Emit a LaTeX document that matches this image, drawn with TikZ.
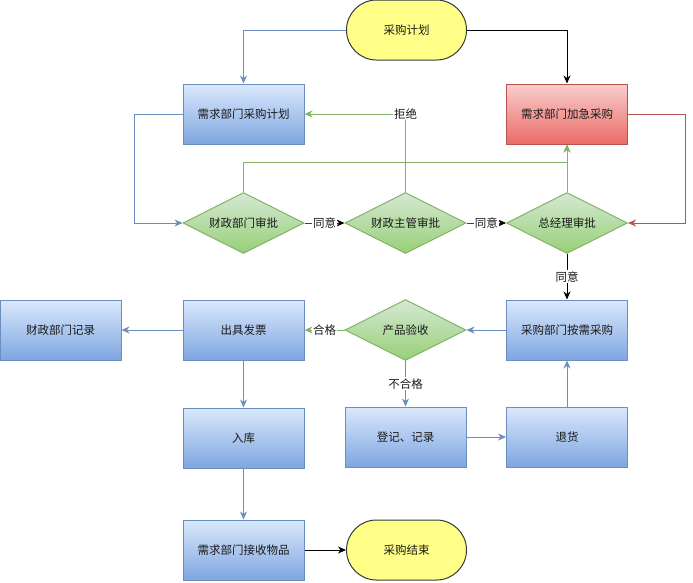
\documentclass[tikz,border=0pt]{standalone}
\usepackage{fontspec}
\setmainfont{Noto Sans CJK SC}
\usetikzlibrary{shapes.geometric,arrows.meta}
\definecolor{bluetop}{HTML}{DAE8FC}
\definecolor{bluebot}{HTML}{7EA6E0}
\definecolor{blueline}{HTML}{6C8EBF}
\definecolor{redtop}{HTML}{F8CECC}
\definecolor{redbot}{HTML}{EA6B66}
\definecolor{redline}{HTML}{B85450}
\definecolor{greentop}{HTML}{D5E8D4}
\definecolor{greenbot}{HTML}{97D077}
\definecolor{greenline}{HTML}{82B366}
\definecolor{yellowfill}{HTML}{FFFF88}
\definecolor{yellowline}{HTML}{36393D}
\tikzset{
  every node/.style={font=\fontsize{11.5pt}{13pt}\selectfont, text=black!90},
  bluebox/.style={rectangle, draw=blueline, line width=1pt, top color=bluetop, bottom color=bluebot, minimum width=121pt, minimum height=60pt, inner sep=0pt},
  redbox/.style={rectangle, draw=redline, line width=1pt, top color=redtop, bottom color=redbot, minimum width=121pt, minimum height=60pt, inner sep=0pt},
  gdiamond/.style={diamond, draw=greenline, line width=1pt, top color=greentop, bottom color=greenbot, minimum width=121pt, minimum height=61pt, inner sep=0pt, aspect=2},
  terminal/.style={rectangle, rounded corners=30pt, draw=yellowline, line width=1pt, fill=yellowfill, minimum width=120pt, minimum height=60pt, inner sep=0pt},
  blueedge/.style={draw=blueline, line width=1pt, -{Stealth[length=8pt,width=7pt,inset=2.5pt]}},
  greenedge/.style={draw=greenline, line width=1pt, -{Stealth[length=8pt,width=7pt,inset=2.5pt]}},
  rededge/.style={draw=redline, line width=1pt, -{Stealth[length=8pt,width=7pt,inset=2.5pt]}},
  blackedge/.style={draw=black, line width=1pt, -{Stealth[length=8pt,width=7pt,inset=2.5pt]}},
  darkedge/.style={draw=black!75, line width=1pt, -{Stealth[length=8pt,width=7pt,inset=2.5pt,black]}},
  lbl/.style={fill=white, inner sep=1pt}
}
\begin{document}
\begin{tikzpicture}[x=1pt,y=-1pt]
\useasboundingbox (0,0) rectangle (693,582);
% nodes
\node[terminal] (start) at (406.5,30) {采购计划};
\node[bluebox] (plan) at (243.5,114) {需求部门采购计划};
\node[redbox] (urgent) at (567,114) {需求部门加急采购};
\node[gdiamond] (d1) at (243.5,223) {财政部门审批};
\node[gdiamond] (d2) at (405.5,223) {财政主管审批};
\node[gdiamond] (d3) at (567,223) {总经理审批};
\node[bluebox] (fin) at (60.5,330) {财政部门记录};
\node[bluebox] (inv) at (243.5,330) {出具发票};
\node[gdiamond] (d4) at (405.5,330) {产品验收};
\node[bluebox] (buy) at (567,330) {采购部门按需采购};
\node[bluebox] (store) at (243.5,438) {入库};
\node[bluebox] (reg) at (405.5,437) {登记、记录};
\node[bluebox] (ret) at (567,437) {退货};
\node[bluebox] (recv) at (243.5,550) {需求部门接收物品};
\node[terminal] (end) at (406.5,550) {采购结束};
% connectors
\draw[blueedge] (start.west) -| (plan.north);
\draw[blackedge] (start.east) -| (urgent.north);
\draw[blueedge] (plan.west) -- ++(-48,0) |- (d1.west);
\draw[rededge] (urgent.east) -- ++(57,0) |- (d3.east);
\draw[greenedge] (d1.north) -- ++(0,-30) -| (urgent.south);
\draw[greenedge] (d3.north) -- (urgent.south);
\draw[greenedge] (d2.north) |- node[lbl, pos=0.5] {拒绝} (plan.east);
\draw[darkedge] (d1.east) -- node[lbl] {同意} (d2.west);
\draw[darkedge] (d2.east) -- node[lbl] {同意} (d3.west);
\draw[blackedge] (d3.south) -- node[lbl] {同意} (buy.north);
\draw[blueedge] (buy.west) -- (d4.east);
\draw[greenedge] (d4.west) -- node[lbl] {合格} (inv.east);
\draw[blueedge] (inv.west) -- (fin.east);
\draw[blueedge] (inv.south) -- (store.north);
\draw[blueedge] (d4.south) -- node[lbl] {不合格} (reg.north);
\draw[blueedge] (reg.east) -- (ret.west);
\draw[blueedge] (ret.north) -- (buy.south);
\draw[blueedge] (store.south) -- (recv.north);
\draw[blackedge] (recv.east) -- (end.west);
\end{tikzpicture}
\end{document}
